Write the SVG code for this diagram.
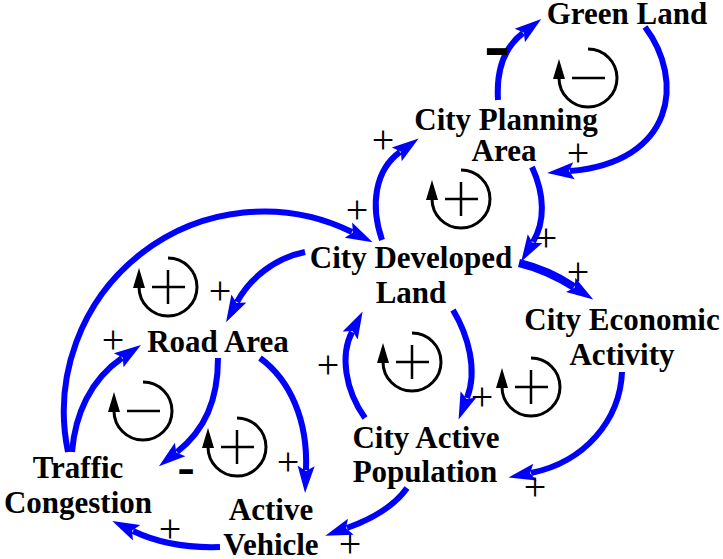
<svg xmlns="http://www.w3.org/2000/svg" xmlns:xlink="http://www.w3.org/1999/xlink" width="723" height="559" viewBox="0 0 723 559">
<style>
.node text{font-family:"Liberation Serif","Times New Roman",serif;font-weight:bold;font-size:31px;fill:#000;text-anchor:middle}
.link{fill:none;stroke:#0000FF;stroke-width:6;marker-end:url(#ah)}
.pol{font-family:"Liberation Serif","Times New Roman",serif;font-size:40px;fill:#000;text-anchor:middle}
.neg{font-family:"Liberation Sans",Arial,sans-serif;font-weight:bold;fill:#000;text-anchor:middle}
.lp{fill:none;stroke:#000;stroke-width:3}
.sg{fill:none;stroke:#000;stroke-width:2.5}
</style>
<defs>
<marker id="ah" markerUnits="userSpaceOnUse" markerWidth="30" markerHeight="20" viewBox="0 -10 30 20" refX="4" refY="0" orient="auto">
<path d="M0,-8.5 L27,0 L0,8.5 L5,0 z" fill="#0000FF"/>
</marker>
<g id="loop">
<path class="lp" d="M0,-29 A29,29 0 1 1 -29,0"/>
<polygon points="-29,-19 -35,1 -23,1" fill="#000"/>
</g>
<path id="plus" class="sg" d="M-16,0 H17 M0,-17 V17"/>
<path id="minus" class="sg" d="M-16,0 H17"/>
</defs>
<rect width="723" height="559" fill="#fff"/>
<g id="connectors">
<path class="link" d="M498,100 C496,68 506,46 523,33"/>
<path class="link" d="M645,27 C685,80 675,162 570,171"/>
<path class="link" d="M532,167 C545,195 545,222 533,242"/>
<path class="link" d="M382,240 C370,205 375,170 400,152"/>
<path class="link" style="stroke-width:8" d="M519,263 Q548,270 574,287"/>
<path class="link" d="M305,252 C275,258 250,278 237,302"/>
<path class="link" d="M68,452 A200,200 0 0 1 352,232"/>
<path class="link" d="M72,452 C75,415 90,380 122,358"/>
<path class="link" d="M218,358 C218,400 205,430 177,452"/>
<path class="link" d="M260,358 C290,380 308,420 306,470"/>
<path class="link" d="M220,547 C190,548 158,543 133,531"/>
<path class="link" d="M407,488 C395,505 375,518 347,528"/>
<path class="link" d="M622,372 C620,420 585,462 531,473"/>
<path class="link" d="M453,310 C468,335 478,370 467,398"/>
<path class="link" d="M365,418 C345,390 340,355 352,332"/>
<text class="neg" font-size="58" transform="translate(497,67) scale(1.38,1)">-</text>
<text class="pol" x="578" y="166">+</text>
<text class="pol" x="546" y="251">+</text>
<text class="pol" x="383" y="153">+</text>
<text class="pol" x="578" y="285">+</text>
<text class="pol" x="357" y="223">+</text>
<text class="pol" x="220" y="304">+</text>
<text class="pol" x="113" y="353">+</text>
<text class="neg" font-size="38" transform="translate(186,482) scale(1.4,1)">-</text>
<text class="pol" x="288" y="475">+</text>
<text class="pol" x="170" y="542">+</text>
<text class="pol" x="350" y="557">+</text>
<text class="pol" x="535" y="500">+</text>
<text class="pol" x="482" y="410">+</text>
<text class="pol" x="328" y="378">+</text>
</g>
<g id="loops">
<g transform="translate(588,78)"><use xlink:href="#loop"/><use xlink:href="#minus"/></g>
<g transform="translate(461,199)"><use xlink:href="#loop"/><use xlink:href="#plus"/></g>
<g transform="translate(168,287)"><use xlink:href="#loop"/><use xlink:href="#plus"/></g>
<g transform="translate(143,411)"><use xlink:href="#loop"/><use xlink:href="#minus"/></g>
<g transform="translate(237,447)"><use xlink:href="#loop"/><use xlink:href="#plus"/></g>
<g transform="translate(412,362)"><use xlink:href="#loop"/><use xlink:href="#plus"/></g>
<g transform="translate(531,387)"><use xlink:href="#loop"/><use xlink:href="#plus"/></g>
</g>
<g id="green-land" class="node"><text x="627" y="24">Green Land</text></g>
<g id="city-planning-area" class="node"><text x="506" y="130">City Planning</text><text x="504" y="161">Area</text></g>
<g id="city-developed-land" class="node"><text x="411" y="268">City Developed</text><text x="411" y="303">Land</text></g>
<g id="city-economic-activity" class="node"><text x="622" y="330">City Economic</text><text x="622" y="365">Activity</text></g>
<g id="road-area" class="node"><text x="218" y="352">Road Area</text></g>
<g id="traffic-congestion" class="node"><text x="78" y="478">Traffic</text><text x="78" y="513">Congestion</text></g>
<g id="active-vehicle" class="node"><text x="271" y="520">Active</text><text x="271" y="555">Vehicle</text></g>
<g id="city-active-population" class="node"><text x="426" y="448">City Active</text><text x="425" y="482">Population</text></g>
</svg>
